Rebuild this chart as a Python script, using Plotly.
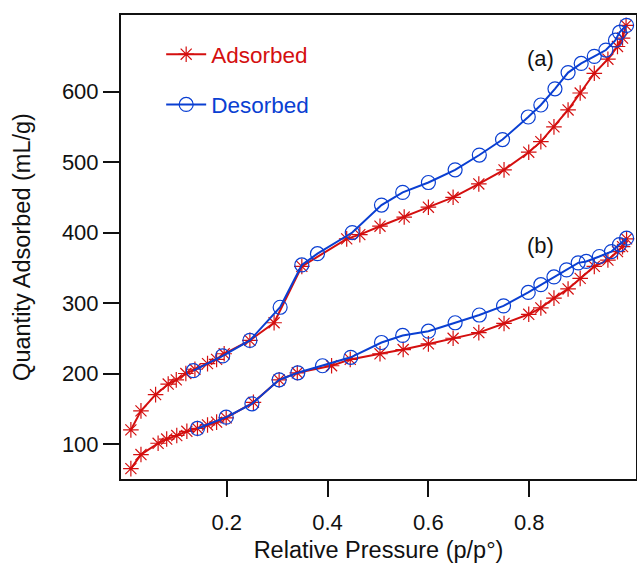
import plotly.graph_objects as go

# (a) isotherm
a_ads_x = [0.010, 0.030, 0.059, 0.084, 0.100, 0.119, 0.137, 0.162, 0.180, 0.195, 0.246, 0.294, 0.349,
           0.438, 0.464, 0.504, 0.552, 0.600, 0.649, 0.700, 0.750, 0.799, 0.823, 0.849, 0.877, 0.901,
           0.929, 0.956, 0.975, 0.985, 0.992]
a_ads_y = [120, 147, 170, 185, 191, 200, 206, 214, 220, 228, 247, 272, 352,
           391, 397, 409, 422, 436, 450, 469, 489, 514, 529, 550, 574, 598,
           626, 646, 664, 676, 694]
a_des_x = [0.993, 0.979, 0.971, 0.952, 0.929, 0.903, 0.877, 0.851, 0.823, 0.798, 0.747, 0.701, 0.653,
           0.600, 0.549, 0.507, 0.449, 0.380, 0.349, 0.306, 0.246, 0.192, 0.134]
a_des_y = [694, 684, 673, 659, 650, 640, 627, 604, 581, 564, 532, 510, 489,
           471, 457, 439, 400, 370, 354, 294, 247, 225, 204]

# (b) isotherm
b_ads_x = [0.010, 0.030, 0.064, 0.081, 0.101, 0.121, 0.142, 0.162, 0.180, 0.199, 0.253, 0.304, 0.340,
           0.408, 0.445, 0.504, 0.550, 0.600, 0.649, 0.700, 0.750, 0.799, 0.823, 0.849, 0.877, 0.901,
           0.929, 0.956, 0.975, 0.985, 0.993]
b_ads_y = [65, 85, 101, 107, 112, 118, 122, 127, 131, 137, 159, 191, 201,
           211, 220, 228, 234, 242, 250, 258, 271, 284, 293, 307, 320, 335,
           352, 361, 373, 380, 391]
b_des_x = [0.993, 0.979, 0.963, 0.939, 0.913, 0.897, 0.874, 0.849, 0.823, 0.798, 0.749, 0.701, 0.653,
           0.600, 0.549, 0.507, 0.446, 0.390, 0.341, 0.304, 0.250, 0.199, 0.142]
b_des_y = [392, 383, 373, 366, 359, 357, 347, 337, 326, 315, 296, 283, 272,
           260, 254, 244, 223, 211, 201, 191, 157, 138, 122]

x_ticks = [0.2, 0.4, 0.6, 0.8]
y_ticks = [100, 200, 300, 400, 500, 600]

RED = "#d40f0f"
BLUE = "#0a3fd2"
FONT = "Liberation Sans, Arial, sans-serif"

fig = go.Figure()

def ads(x, y, show):
    return go.Scatter(x=x, y=y, mode="lines+markers",
                      name="<span style='color:%s'>Adsorbed</span>" % RED,
                      legendgroup="ads", showlegend=show,
                      line=dict(color=RED, width=2),
                      marker=dict(symbol="asterisk-open", size=13, color=RED,
                                  line=dict(color=RED, width=1.2)))

def des(x, y, show):
    return go.Scatter(x=x, y=y, mode="lines+markers",
                      name="<span style='color:%s'>Desorbed</span>" % BLUE,
                      legendgroup="des", showlegend=show,
                      line=dict(color=BLUE, width=2),
                      marker=dict(symbol="circle-open", size=14, color=BLUE,
                                  line=dict(color=BLUE, width=1.2)))

fig.add_trace(ads(a_ads_x, a_ads_y, True))
fig.add_trace(ads(b_ads_x, b_ads_y, False))
fig.add_trace(des(a_des_x, a_des_y, True))
fig.add_trace(des(b_des_x, b_des_y, False))

fig.add_annotation(x=0.8136, y=0.907, xref="paper", yref="paper", text="(a)",
                   xanchor="center", yanchor="middle", showarrow=False,
                   font=dict(size=22, color="#111111", family=FONT))
fig.add_annotation(x=0.8155, y=0.504, xref="paper", yref="paper", text="(b)",
                   xanchor="center", yanchor="middle", showarrow=False,
                   font=dict(size=22, color="#111111", family=FONT))

fig.update_layout(
    width=637, height=563,
    margin=dict(l=121, r=1, t=15, b=84, autoexpand=False),
    paper_bgcolor="white", plot_bgcolor="white",
    font=dict(family=FONT, size=22, color="#111111"),
    showlegend=True,
    legend=dict(x=0.078, y=0.961, xanchor="left", yanchor="top",
                bgcolor="rgba(0,0,0,0)", font=dict(size=22.5, family=FONT),
                tracegroupgap=18, traceorder="grouped", itemwidth=40),
    xaxis=dict(range=[-0.0096, 1.0117], tickvals=x_ticks, ticktext=["0.2", "0.4", "0.6", "0.8"],
               ticks="outside", ticklen=16, tickwidth=2, tickcolor="#111111",
               showline=True, linecolor="#111111", linewidth=2, mirror=True,
               showgrid=False, zeroline=False, automargin=False, ticklabelstandoff=7,
               title=dict(text="Relative Pressure (p/p°)", font=dict(size=23.5), standoff=15)),
    yaxis=dict(range=[50.3, 708.7], tickvals=y_ticks,
               ticks="outside", ticklen=16, tickwidth=2, tickcolor="#111111",
               showline=True, linecolor="#111111", linewidth=2, mirror=True,
               showgrid=False, zeroline=False, automargin=False,
               title=dict(text="Quantity Adsorbed (mL/g)", font=dict(size=23.5), standoff=25)),
)

fig.write_html("out.html", config={"displayModeBar": False},
               post_script="document.body.style.margin='0';document.body.style.overflow='hidden';")
